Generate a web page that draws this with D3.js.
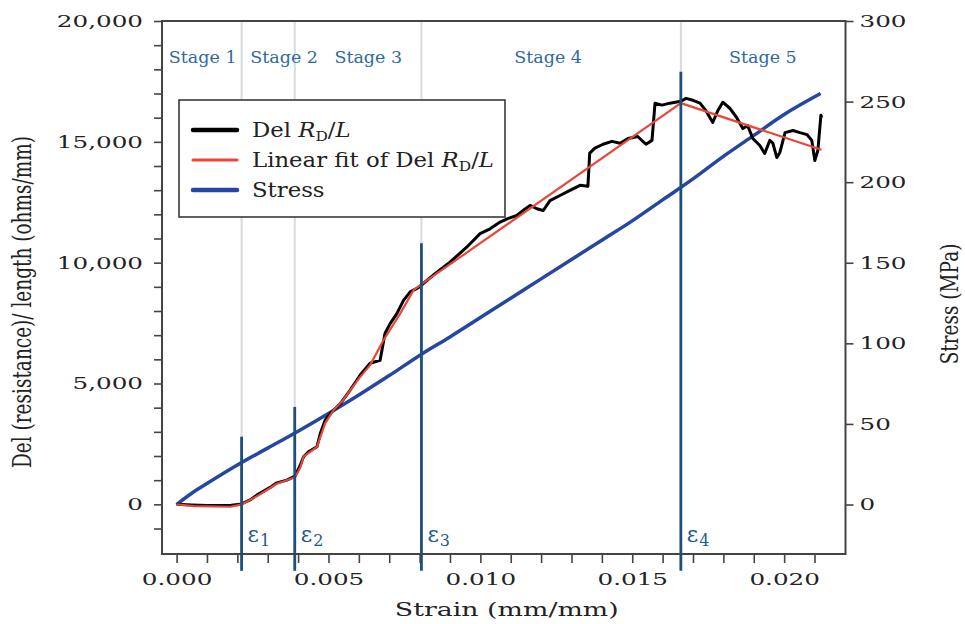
<!DOCTYPE html>
<html>
<head>
<meta charset="utf-8">
<script src="https://cdn.jsdelivr.net/npm/d3@7"></script>
<style>
  body { margin: 0; background: #fff; }
  svg { display: block; }
</style>
</head>
<body>
<svg id="chart" width="965" height="624"></svg>
<script>
// Measured resistance change per unit length (ohms/mm) vs. strain
const delStrain = [0, 0.0005, 0.0010, 0.0015, 0.0018, 0.0021, 0.00242, 0.00264, 0.00308, 0.0033, 0.00363, 0.0039,
  0.00407, 0.00418, 0.00434, 0.00462, 0.00473, 0.00489, 0.00506, 0.00539, 0.00571, 0.00604, 0.00637, 0.0067,
  0.00686, 0.00703, 0.00725, 0.00747, 0.00769, 0.00796, 0.00818, 0.00857, 0.009, 0.00955, 0.00999, 0.01032,
  0.01065, 0.0109, 0.0112, 0.01145, 0.01164, 0.01186, 0.01207, 0.01229, 0.01262, 0.01295, 0.01328, 0.01354, 0.0136, 0.01377,
  0.01404, 0.01433, 0.0146, 0.01486, 0.01518, 0.01545, 0.01565, 0.01575, 0.01598, 0.01624, 0.0166,
  0.01677, 0.017, 0.01723, 0.01742, 0.01765, 0.01782, 0.01798, 0.01821, 0.01844, 0.01864, 0.0188, 0.01897,
  0.0192, 0.01936, 0.01953, 0.01963, 0.01976, 0.01986, 0.02003, 0.02029, 0.02052, 0.02075, 0.02091, 0.02101,
  0.02111, 0.02121, 0.02124];
const delRL = [0, -30, -50, -50, -40, 0, 180, 380, 700, 890, 1000, 1170,
  1620, 1970, 2170, 2380, 2930, 3480, 3760, 4170, 4720, 5340, 5840, 5960,
  7070, 7480, 7890, 8440, 8790, 8970, 9200, 9610, 10020, 10640, 11200, 11400,
  11680, 11820, 11950, 12200, 12370, 12230, 12160, 12570, 12780, 12990, 13200, 13160, 14530, 14740,
  14900, 15020, 14940, 15140, 15220, 14900, 15060, 16600, 16520, 16600, 16680,
  16800, 16720, 16600, 16300, 15800, 16300, 16640, 16390, 16000, 15550, 15670, 15140,
  14850, 14520, 15060, 14940, 14350, 14560, 15380, 15470, 15380, 15300, 15060, 14230,
  14640, 16100, 16000];

// Linear (piecewise) fit of the same quantity
const fitStrain = [0, 0.00056, 0.00177, 0.00215, 0.00264, 0.0033, 0.0039, 0.00407, 0.00418, 0.00462,
  0.00489, 0.00517, 0.00548, 0.006, 0.00637, 0.00681, 0.00736, 0.0078, 0.00812, 0.0166, 0.02123];
const fitRL = [0, -70, -100, 0, 330, 850, 1120, 1510, 1970, 2380,
  3350, 3900, 4310, 5200, 5760, 6790, 7890, 8860, 9160, 16600, 14670];

// Applied stress (MPa)
const stressStrain = [0, 0.0005, 0.001, 0.002, 0.003, 0.004, 0.005, 0.006, 0.007, 0.008, 0.009, 0.010,
  0.011, 0.012, 0.013, 0.014, 0.015, 0.016, 0.017, 0.018, 0.019, 0.020, 0.0212];
const stressMPa = [0, 7, 13, 24.5, 35, 45.5, 56.5, 68, 80, 92.5, 104, 116,
  128, 140, 152, 164, 176, 189, 202, 216, 229, 242, 255];

// Stage boundaries (critical strains) and how high each marker reaches (ohms/mm)
const epsStrain = [0.00214, 0.00389, 0.00806, 0.0166];
const epsNames = ["1", "2", "3", "4"];
const epsTopRL = [2800, 4030, 10800, 17900];
const epsBottomRL = -2750;

const stageNames = ["Stage 1", "Stage 2", "Stage 3", "Stage 4", "Stage 5"];
const stageCenters = [0.00086, 0.00354, 0.00631, 0.01223, 0.0193];

const xTicksMajor = [0, 0.005, 0.010, 0.015, 0.020];
const xTicksMinor = d3.range(0, 22).map(i => i / 1000);
const yTicksMajor = [0, 5000, 10000, 15000, 20000];
const yTicksMinor = d3.range(-1, 21).map(i => i * 1000);
const stressTicks = [0, 50, 100, 150, 200, 250, 300];

const legendItems = [
  { key: "del", color: "#000000", width: 4.5 },
  { key: "fit", color: "#e8473a", width: 3 },
  { key: "stress", color: "#2547a0", width: 4.5 }
];

const svg = d3.select("#chart");
const plotL = 162, plotR = 845.5, plotT = 21, plotB = 554;
const SX = 1.45;           // horizontal stretch used for axis typography
const LSX = 1.14;          // horizontal stretch of legend text
const serif = "DejaVu Serif";

const x = d3.scaleLinear().domain([-0.00048, 0.02202]).range([plotL, plotR]);
const y = d3.scaleLinear().domain([-2055, 20000]).range([plotB, plotT]);
const yS = d3.scaleLinear().domain([-30.7, 300]).range([plotB, plotT]);

// stage separators
svg.append("g").selectAll("line").data(epsStrain).join("line")
  .attr("x1", d => x(d)).attr("x2", d => x(d))
  .attr("y1", plotT).attr("y2", plotB)
  .attr("stroke", "#d6dbe0").attr("stroke-width", 2);

// stage labels
svg.append("g").selectAll("text").data(stageNames).join("text")
  .attr("x", (d, i) => x(stageCenters[i])).attr("y", 63)
  .attr("text-anchor", "middle")
  .attr("font-family", serif).attr("font-size", 17.5)
  .attr("fill", "#2f6a9f")
  .text(d => d);

// legend box (drawn under the curves)
const lg = svg.append("g");
lg.append("rect").attr("x", 179).attr("y", 100).attr("width", 326).attr("height", 117)
  .attr("fill", "#fff").attr("stroke", "#3a3a3a").attr("stroke-width", 1.6);

// data curves
const lineDel = d3.line().x((d, i) => x(delStrain[i])).y(d => y(d));
const lineFit = d3.line().x((d, i) => x(fitStrain[i])).y(d => y(d));
const lineStress = d3.line().x((d, i) => x(stressStrain[i])).y(d => yS(d)).curve(d3.curveMonotoneX);

svg.append("path").attr("d", lineStress(stressMPa)).attr("fill", "none")
  .attr("stroke", "#2547a0").attr("stroke-width", 3.5).attr("stroke-linejoin", "round");
svg.append("path").attr("d", lineDel(delRL)).attr("fill", "none")
  .attr("stroke", "#000").attr("stroke-width", 3).attr("stroke-linejoin", "round");
svg.append("path").attr("d", lineFit(fitRL)).attr("fill", "none")
  .attr("stroke", "#e8473a").attr("stroke-width", 2.2).attr("stroke-linejoin", "round");

// critical strain markers
svg.append("g").selectAll("line").data(epsStrain).join("line")
  .attr("x1", d => x(d)).attr("x2", d => x(d))
  .attr("y1", (d, i) => y(epsTopRL[i])).attr("y2", y(epsBottomRL))
  .attr("stroke", "#1d4f7c").attr("stroke-width", 2.8);

const epsText = svg.append("g").selectAll("text").data(epsNames).join("text")
  .attr("x", (d, i) => x(epsStrain[i]) + 6).attr("y", 542)
  .attr("font-family", serif).attr("font-size", 22).attr("fill", "#1f5a8c");
epsText.append("tspan").text("ε");
epsText.append("tspan").attr("dx", 1).attr("dy", 4).attr("font-size", 16).text(d => d);

// frame and axes
const axisColor = "#444";
function styleAxis(g) {
  g.selectAll(".domain").remove();
  g.selectAll("line").attr("stroke", axisColor).attr("stroke-width", 1.6);
  g.selectAll("text").attr("font-family", serif).attr("font-size", 17).attr("fill", "#222");
}
function stretchLabels(g) {
  g.selectAll("text").each(function () {
    const t = d3.select(this);
    const tx = +t.attr("x") || 0;
    t.attr("transform", `translate(${tx},0) scale(${SX},1)`).attr("x", 0);
  });
}

// bottom axis: minor ticks then labelled ticks
svg.append("g").attr("transform", `translate(0,${plotB})`)
  .call(d3.axisBottom(x).tickValues(xTicksMinor).tickSize(9).tickFormat(""))
  .call(styleAxis);
const gx = svg.append("g").attr("transform", `translate(0,${plotB})`)
  .call(d3.axisBottom(x).tickValues(xTicksMajor).tickSize(9).tickPadding(10).tickFormat(d3.format(".3f")))
  .call(styleAxis);
gx.selectAll("line").remove();
stretchLabels(gx);

// left axis
svg.append("g").attr("transform", `translate(${plotL},0)`)
  .call(d3.axisLeft(y).tickValues(yTicksMinor).tickSize(8).tickFormat(""))
  .call(styleAxis);
const gy = svg.append("g").attr("transform", `translate(${plotL},0)`)
  .call(d3.axisLeft(y).tickValues(yTicksMajor).tickSize(8).tickPadding(11).tickFormat(d3.format(",")))
  .call(styleAxis);
gy.selectAll("line").remove();
stretchLabels(gy);

// right axis
const gr = svg.append("g").attr("transform", `translate(${plotR},0)`)
  .call(d3.axisRight(yS).tickValues(stressTicks).tickSize(8).tickPadding(6))
  .call(styleAxis);
stretchLabels(gr);

// frame
svg.append("rect").attr("x", plotL).attr("y", plotT).attr("width", plotR - plotL).attr("height", plotB - plotT)
  .attr("fill", "none").attr("stroke", axisColor).attr("stroke-width", 2);

// axis titles
svg.append("text")
  .attr("transform", `translate(${(plotL + plotR) / 2 + 3},616) scale(${SX},1)`)
  .attr("text-anchor", "middle").attr("font-family", serif).attr("font-size", 18.5).attr("fill", "#222")
  .text("Strain (mm/mm)");
svg.append("text")
  .attr("transform", `translate(31,302) scale(${SX},1) rotate(-90)`)
  .attr("text-anchor", "middle").attr("font-family", serif).attr("font-size", 18.5).attr("fill", "#222")
  .text("Del (resistance)/ length (ohms/mm)");
svg.append("text")
  .attr("transform", `translate(958,304) scale(1.35,1) rotate(-90)`)
  .attr("text-anchor", "middle").attr("font-family", serif).attr("font-size", 18.5).attr("fill", "#222")
  .text("Stress (MPa)");

// legend entries
const rows = lg.selectAll("g.row").data(legendItems).join("g").attr("class", "row")
  .attr("transform", (d, i) => `translate(0,${130 + i * 30})`);
rows.append("line").attr("x1", 193).attr("x2", 237).attr("y1", 0).attr("y2", 0)
  .attr("stroke", d => d.color).attr("stroke-width", d => d.width).attr("stroke-linecap", "round");
const labels = rows.append("text")
  .attr("transform", `translate(252,7) scale(${LSX},1)`)
  .attr("font-family", serif).attr("font-size", 20).attr("fill", "#222");
function rdl(t, prefix) {
  t.append("tspan").text(prefix + "Del ");
  t.append("tspan").attr("font-style", "italic").text("R");
  t.append("tspan").attr("font-size", 13.5).attr("dy", 4).text("D");
  t.append("tspan").attr("dy", -4).text("/");
  t.append("tspan").attr("font-style", "italic").text("L");
}
labels.each(function (d) {
  const t = d3.select(this);
  if (d.key === "del") rdl(t, "");
  else if (d.key === "fit") rdl(t, "Linear fit of ");
  else t.text("Stress");
});
</script>
</body>
</html>
